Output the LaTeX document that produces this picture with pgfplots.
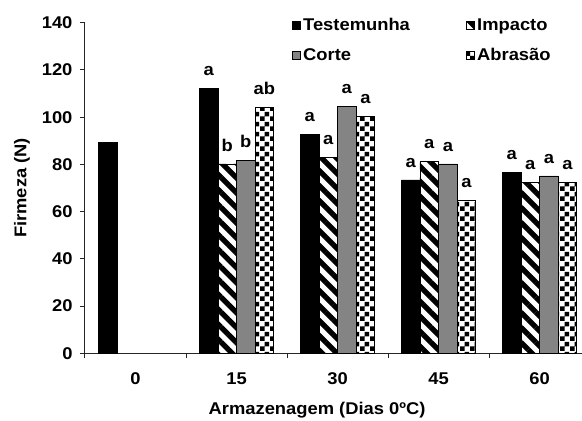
\documentclass[border=0pt]{standalone}
\usepackage{fontspec}
\setmainfont{Liberation Sans}[FakeStretch=1.08]
\usepackage{pgfplots}
\pgfplotsset{compat=1.18}
\usetikzlibrary{patterns,patterns.meta}
\definecolor{cortegray}{RGB}{132,132,132}
\pgfdeclarepatternformonly{mychecker}{\pgfpointorigin}{\pgfqpoint{10pt}{10pt}}{\pgfqpoint{10pt}{10pt}}{%
  \pgfpathrectangle{\pgfpointorigin}{\pgfqpoint{5pt}{5pt}}%
  \pgfpathrectangle{\pgfqpoint{5pt}{5pt}}{\pgfqpoint{5pt}{5pt}}%
  \pgfusepath{fill}}
\begin{document}
\begin{tikzpicture}
\begin{axis}[
  scale only axis, width=497pt, height=330.6pt,
  font=\fontsize{17}{20}\selectfont\bfseries,
  /pgf/number format/assume math mode=true,
  xmin=-0.5, xmax=4.42, ymin=0, ymax=140,
  axis lines=left, axis line style={-, line width=1pt, draw=black!85},
  tick align=outside, major tick length=5pt,
  tick style={line width=1pt, draw=black!85},
  ytick={0,20,...,140},
  yticklabel style={xshift=-4pt},
  xtick={-0.5,0.5,1.5,2.5,3.5}, xticklabels={},
  extra x ticks={0,1,2,3,4}, extra x tick labels={0,15,30,45,60},
  extra x tick style={major tick length=0pt, xticklabel style={yshift=-16pt}},
  ylabel={Firmeza (N)},
  ylabel style={at={(axis description cs:-0.1268,0.5)}, anchor=center},
  xlabel={Armazenagem (Dias 0ºC)},
  xlabel style={at={(rel axis cs:0.467,0)}, yshift=-57pt, anchor=center},
  ybar, bar width=18.6pt,
  every node near coord/.append style={font=\fontsize{17}{20}\selectfont\bfseries, text=black, anchor=south, yshift=9pt},
  legend image code/.code={\draw[#1, draw=black, line width=0.8pt] (0pt,-4.2pt) rectangle (8.4pt,4.2pt);},
  legend columns=2,
  legend style={draw=none, fill=none, at={(rel axis cs:0.41,1.025)}, anchor=north west,
    font=\fontsize{17}{20}\selectfont\bfseries,
    row sep=12pt},
  legend cell align=left,
]
\addplot[forget plot, bar shift=-27.9pt, fill=black, draw=black, line width=0.8pt] coordinates {(0,89.5)};
\addplot[bar shift=-27.9pt, fill=black, draw=black, line width=0.8pt, nodes near coords, point meta=explicit symbolic]
  coordinates {(1,112.2)[a] (2,92.5)[a] (3,73.4)[a] (4,76.5)[a]};
\addlegendentry{Testemunha\hspace*{54pt}}
\addplot[bar shift=-9.3pt, pattern={Lines[angle=-45,distance=10.6pt,line width=5.3pt]}, draw=black, line width=0.8pt, nodes near coords, point meta=explicit symbolic]
  coordinates {(1,80.2)[b] (2,83.0)[a] (3,81.4)[a] (4,72.3)[a]};
\addlegendentry{Impacto}
\addplot[bar shift=9.3pt, fill=cortegray, draw=black, line width=0.8pt, nodes near coords, point meta=explicit symbolic]
  coordinates {(1,81.6)[b] (2,104.7)[a] (3,80.2)[a] (4,75.1)[a]};
\addlegendentry{Corte}
\addplot[bar shift=27.9pt, pattern=mychecker, draw=black, line width=0.8pt, nodes near coords, point meta=explicit symbolic]
  coordinates {(1,104.2)[ab] (2,100.2)[a] (3,64.9)[a] (4,72.3)[a]};
\addlegendentry{Abrasão}
\end{axis}
\pgfresetboundingbox
\path ([xshift=-85pt,yshift=-67.7pt]current axis.south west) rectangle ([yshift=22.7pt]current axis.north east);
\end{tikzpicture}
\end{document}
